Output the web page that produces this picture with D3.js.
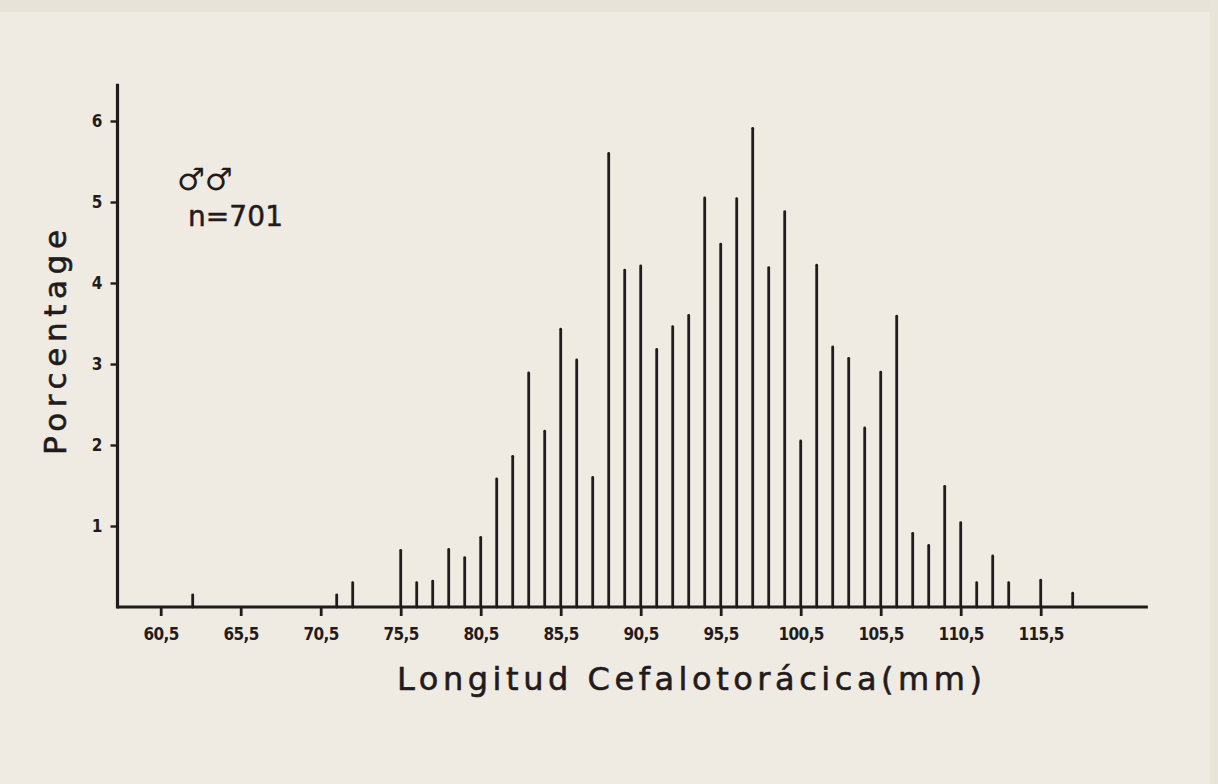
<!DOCTYPE html>
<html>
<head>
<meta charset="utf-8">
<script src="https://cdn.jsdelivr.net/npm/d3@7"></script>
<style>
  html, body { margin: 0; padding: 0; background: #efebe3; }
  svg { display: block; }
  .tick text { font-family: "DejaVu Sans Condensed", "DejaVu Sans", sans-serif; font-weight: bold; fill: #231b1b; }
</style>
</head>
<body>
<svg id="chart"></svg>
<script>
// Longitud cefalotorácica (punto medio de clase, mm) y porcentaje, machos n=701
const lengths = [62.5, 71.5, 72.5, 75.5, 76.5, 77.5, 78.5, 79.5, 80.5, 81.5,
  82.5, 83.5, 84.5, 85.5, 86.5, 87.5, 88.5, 89.5, 90.5, 91.5,
  92.5, 93.5, 94.5, 95.5, 96.5, 97.5, 98.5, 99.5, 100.5, 101.5,
  102.5, 103.5, 104.5, 105.5, 106.5, 107.5, 108.5, 109.5, 110.5, 111.5,
  112.5, 113.5, 115.5, 117.5];
const percents = [0.15, 0.15, 0.30, 0.70, 0.30, 0.32, 0.71, 0.61, 0.86, 1.58,
  1.86, 2.89, 2.17, 3.43, 3.05, 1.60, 5.60, 4.16, 4.21, 3.18,
  3.46, 3.60, 5.05, 4.48, 5.04, 5.91, 4.19, 4.88, 2.05, 4.22,
  3.21, 3.07, 2.21, 2.90, 3.59, 0.91, 0.76, 1.49, 1.04, 0.30,
  0.63, 0.30, 0.33, 0.17];
const xTicks = [60.5, 65.5, 70.5, 75.5, 80.5, 85.5, 90.5, 95.5, 100.5, 105.5, 110.5, 115.5];
const yTicks = [1, 2, 3, 4, 5, 6];

const W = 1218, H = 784;
const ink = '#231b1b';

const svg = d3.select('#chart').attr('width', W).attr('height', H);

// fondo de papel
svg.append('rect').attr('width', W).attr('height', H).attr('fill', '#efebe3');
svg.append('rect').attr('width', W).attr('height', 12).attr('fill', '#e7e3d9');
svg.append('rect').attr('x', W - 8).attr('width', 8).attr('height', H).attr('fill', '#e8e4da');

const x = d3.scaleLinear().domain([60.5, 115.5]).range([160.7, 1040.7]);
const y = d3.scaleLinear().domain([0, 6]).range([607, 121]);

const xMin = 57.8, xMax = 122.2, yMax = 6.46;

// barras
svg.append('g')
  .selectAll('line')
  .data(lengths)
  .join('line')
  .attr('x1', d => x(d)).attr('x2', d => x(d))
  .attr('y1', y(0))
  .attr('y2', (d, i) => y(percents[i]))
  .attr('stroke', ink)
  .attr('stroke-width', 2.8)
  .attr('stroke-linecap', 'round');

// ejes
svg.append('line')
  .attr('x1', x(xMin)).attr('x2', x(xMax))
  .attr('y1', y(0)).attr('y2', y(0))
  .attr('stroke', ink).attr('stroke-width', 3.2);
svg.append('line')
  .attr('x1', x(xMin)).attr('x2', x(xMin))
  .attr('y1', y(0) + 1.5).attr('y2', y(yMax))
  .attr('stroke', ink).attr('stroke-width', 3.2);

const xAxis = svg.append('g')
  .attr('transform', `translate(0,${y(0)})`)
  .call(d3.axisBottom(x).tickValues(xTicks).tickSize(9).tickPadding(12)
    .tickFormat(d => String(d).replace('.', ',')));
xAxis.select('.domain').remove();
xAxis.selectAll('.tick line').attr('stroke', ink).attr('stroke-width', 2.8);
xAxis.selectAll('.tick text').attr('font-size', 17).attr('letter-spacing', -0.6);

const yAxis = svg.append('g')
  .attr('transform', `translate(${x(xMin)},0)`)
  .call(d3.axisLeft(y).tickValues(yTicks).tickSize(7).tickPadding(8)
    .tickFormat(d3.format('d')));
yAxis.select('.domain').remove();
yAxis.selectAll('.tick line').attr('stroke', ink).attr('stroke-width', 2.4);
yAxis.selectAll('.tick text').attr('font-size', 17);

// títulos de ejes
svg.append('text')
  .attr('x', 397).attr('y', 690)
  .attr('font-family', '"DejaVu Sans", sans-serif')
  .attr('font-size', 32)
  .attr('stroke', ink).attr('stroke-width', 0.6)
  .attr('textLength', 585)
  .attr('lengthAdjust', 'spacing')
  .attr('fill', ink)
  .text('Longitud Cefalotorácica(mm)');

svg.append('text')
  .attr('transform', 'translate(66,455) rotate(-90)')
  .attr('font-family', '"DejaVu Sans", sans-serif')
  .attr('font-size', 31)
  .attr('stroke', ink).attr('stroke-width', 0.6)
  .attr('textLength', 225)
  .attr('lengthAdjust', 'spacing')
  .attr('fill', ink)
  .text('Porcentage');

// leyenda
svg.append('text')
  .attr('x', 177).attr('y', 190)
  .attr('font-family', '"DejaVu Sans", sans-serif')
  .attr('font-size', 31)
  .attr('font-weight', 'bold')
  .attr('fill', ink)
  .text('♂♂');

svg.append('text')
  .attr('x', 188).attr('y', 226)
  .attr('font-family', '"DejaVu Sans", sans-serif')
  .attr('font-size', 28)
  .attr('stroke', ink).attr('stroke-width', 0.5)
  .attr('textLength', 95)
  .attr('lengthAdjust', 'spacing')
  .attr('fill', ink)
  .text('n=701');
</script>
</body>
</html>
